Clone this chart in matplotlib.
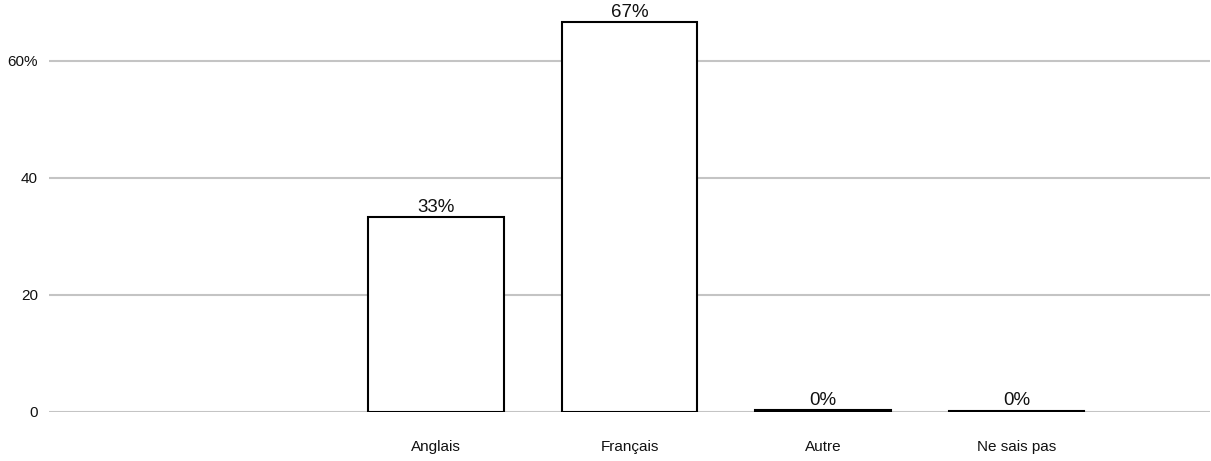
import matplotlib
matplotlib.use("Agg")
import matplotlib.pyplot as plt

categories = ["Anglais", "Français", "Autre", "Ne sais pas"]
values = [33.3, 66.7, 0.35, 0.25]
bar_labels = ["33%", "67%", "0%", "0%"]
yticks = [0, 20, 40, 60]
ytick_labels = ["0", "20", "40", "60%"]

plt.rcParams['font.family'] = ['Liberation Sans', 'DejaVu Sans']

fig = plt.figure(figsize=(12.11, 4.61), dpi=100)
ax = fig.add_axes([0.0405, 0.1063, 0.9587, 0.8883])

x = list(range(len(categories)))
bars = ax.bar(x, values, width=0.70, color="white", edgecolor="black", linewidth=1.5, zorder=3)
for b, lab in zip(bars, bar_labels):
    ax.text(b.get_x() + b.get_width() / 2, b.get_height() + 0.2, lab,
            ha="center", va="bottom", fontsize=13.5, color="#111111")

ax.set_xlim(-2, 4)
ax.set_ylim(0, 70)
ax.set_xticks(x)
ax.set_xticklabels(categories, fontsize=11, color="#111111")
ax.set_yticks(yticks)
ax.set_yticklabels(ytick_labels, fontsize=11, color="#111111")
ax.tick_params(axis="both", length=0)
ax.tick_params(axis="x", pad=20)
ax.tick_params(axis="y", pad=8)
ax.grid(axis="y", color="#c4c4c4", linewidth=1.5, zorder=0)
for s in ax.spines.values():
    s.set_visible(False)

fig.savefig("out.png", dpi=100)
